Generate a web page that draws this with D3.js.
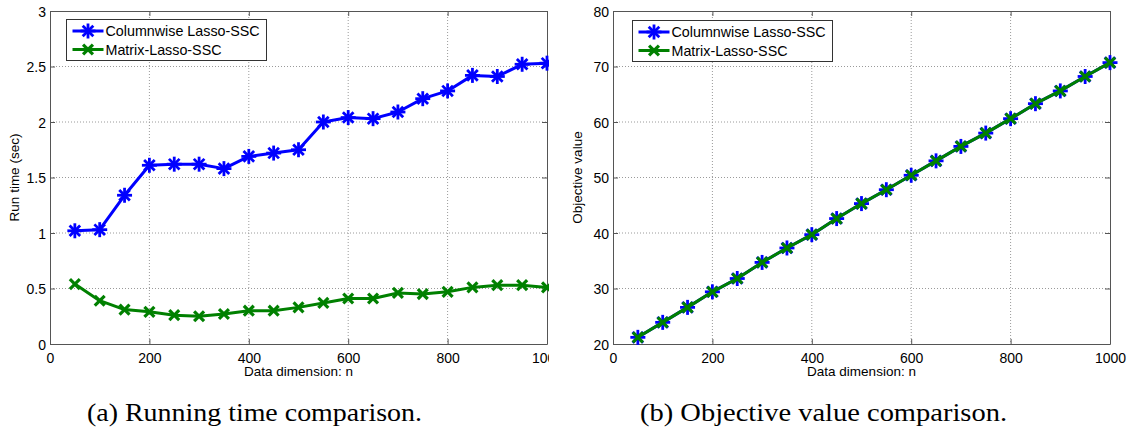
<!DOCTYPE html>
<html>
<head>
<meta charset="utf-8">
<script src="https://cdn.jsdelivr.net/npm/d3@7"></script>
<style>
  body { margin: 0; background: #fff; }
  svg text { font-family: "Liberation Sans", Arial, sans-serif; }
</style>
</head>
<body>
<div id="chart"></div>
<script>
// data dimension n
const dims = [50, 100, 150, 200, 250, 300, 350, 400, 450, 500, 550, 600, 650, 700, 750, 800, 850, 900, 950, 1000];

// (a) running time, seconds
const timeColumnwise = [1.02, 1.03, 1.34, 1.61, 1.62, 1.62, 1.58, 1.69, 1.72, 1.75, 2.00, 2.04, 2.03, 2.09, 2.21, 2.28, 2.42, 2.41, 2.52, 2.53];
const timeMatrix = [0.54, 0.39, 0.31, 0.29, 0.26, 0.25, 0.27, 0.30, 0.30, 0.33, 0.37, 0.41, 0.41, 0.46, 0.45, 0.47, 0.51, 0.53, 0.53, 0.51];

// (b) objective value
const objColumnwise = [21.2, 23.9, 26.6, 29.4, 31.8, 34.7, 37.3, 39.7, 42.6, 45.3, 47.8, 50.4, 53.0, 55.6, 58.0, 60.6, 63.3, 65.6, 68.2, 70.7];
const objMatrix = [21.2, 23.9, 26.6, 29.4, 31.8, 34.7, 37.3, 39.7, 42.6, 45.3, 47.8, 50.4, 53.0, 55.6, 58.0, 60.6, 63.3, 65.6, 68.2, 70.7];

const xTicks = [0, 200, 400, 600, 800, 1000];
const timeTicks = [0, 0.5, 1, 1.5, 2, 2.5, 3];
const objTicks = [20, 30, 40, 50, 60, 70, 80];

const seriesNames = ["Columnwise Lasso-SSC", "Matrix-Lasso-SSC"];

const W = 1134, H = 428;
const svg = d3.select("#chart").append("svg")
    .attr("width", W)
    .attr("height", H);

svg.append("rect").attr("width", W).attr("height", H).attr("fill", "#fff");

// left panel is cropped at its right edge in the original figure
svg.append("defs").append("clipPath")
    .attr("id", "leftClip")
    .append("rect")
    .attr("x", 0).attr("y", 0)
    .attr("width", 549).attr("height", H);

const blue = "#0000ff", green = "#008000";

function asterisk(g, x, y, color) {
    const r = 7.5;
    [0, 45, 90, 135].forEach(a => {
        const t = a * Math.PI / 180;
        g.append("line")
            .attr("x1", x - r * Math.cos(t)).attr("y1", y - r * Math.sin(t))
            .attr("x2", x + r * Math.cos(t)).attr("y2", y + r * Math.sin(t))
            .attr("stroke", color).attr("stroke-width", 2.8);
    });
}

function cross(g, x, y, color) {
    const r = 7;
    [45, 135].forEach(a => {
        const t = a * Math.PI / 180;
        g.append("line")
            .attr("x1", x - r * Math.cos(t)).attr("y1", y - r * Math.sin(t))
            .attr("x2", x + r * Math.cos(t)).attr("y2", y + r * Math.sin(t))
            .attr("stroke", color).attr("stroke-width", 3.2);
    });
}

function drawPanel(cfg) {
    const g = svg.append("g");
    if (cfg.clip) g.attr("clip-path", "url(#leftClip)");

    const x = d3.scaleLinear().domain([0, 1000]).range([cfg.left, cfg.right]);
    const y = d3.scaleLinear().domain(cfg.yDomain).range([cfg.bottom, cfg.top]);

    // dotted grid
    g.append("g").selectAll("line")
        .data(xTicks.slice(1, -1))
        .join("line")
        .attr("x1", d => x(d)).attr("x2", d => x(d))
        .attr("y1", cfg.top).attr("y2", cfg.bottom)
        .attr("stroke", "#9a9a9a").attr("stroke-dasharray", "1,2");
    g.append("g").selectAll("line")
        .data(cfg.yTicks.slice(1, -1))
        .join("line")
        .attr("y1", d => y(d)).attr("y2", d => y(d))
        .attr("x1", cfg.left).attr("x2", cfg.right)
        .attr("stroke", "#9a9a9a").attr("stroke-dasharray", "1,2");

    // axes, ticks inside on all four sides
    const tickLen = 5;
    const axB = g.append("g").attr("transform", `translate(0,${cfg.bottom})`)
        .call(d3.axisBottom(x).tickValues(xTicks).tickSizeInner(-tickLen).tickSizeOuter(0).tickPadding(9)
            .tickFormat(d3.format("d")));
    const axT = g.append("g").attr("transform", `translate(0,${cfg.top})`)
        .call(d3.axisTop(x).tickValues(xTicks).tickSizeInner(-tickLen).tickSizeOuter(0).tickFormat(""));
    const axL = g.append("g").attr("transform", `translate(${cfg.left},0)`)
        .call(d3.axisLeft(y).tickValues(cfg.yTicks).tickSizeInner(-tickLen).tickSizeOuter(0).tickPadding(4)
            .tickFormat(d3.format("")));
    const axR = g.append("g").attr("transform", `translate(${cfg.right},0)`)
        .call(d3.axisRight(y).tickValues(cfg.yTicks).tickSizeInner(-tickLen).tickSizeOuter(0).tickFormat(""));

    [axB, axT, axL, axR].forEach(a => {
        a.select(".domain").attr("stroke", "#555");
        a.selectAll(".tick line").attr("stroke", "#555");
        a.selectAll(".tick text")
            .attr("fill", "#000")
            .style("font-size", "14px")
            .style("font-family", "Liberation Sans, Arial, sans-serif");
    });
    axL.selectAll(".tick text").attr("dy", "0.36em");

    // series
    const line = d3.line().x((d, i) => x(dims[i])).y(d => y(d));
    const s1 = g.append("g");
    s1.append("path").datum(cfg.series1)
        .attr("d", line).attr("fill", "none")
        .attr("stroke", blue).attr("stroke-width", 3).attr("stroke-linejoin", "round");
    cfg.series1.forEach((v, i) => asterisk(s1, x(dims[i]), y(v), blue));

    const s2 = g.append("g");
    s2.append("path").datum(cfg.series2)
        .attr("d", line).attr("fill", "none")
        .attr("stroke", green).attr("stroke-width", 3).attr("stroke-linejoin", "round");
    cfg.series2.forEach((v, i) => cross(s2, x(dims[i]), y(v), green));

    // axis labels
    g.append("text")
        .attr("x", (cfg.left + cfg.right) / 2).attr("y", cfg.bottom + 32)
        .attr("text-anchor", "middle")
        .style("font-size", "13.5px")
        .text("Data dimension: n");
    g.append("text")
        .attr("transform", `translate(${cfg.left - 31},${(cfg.top + cfg.bottom) / 2}) rotate(-90)`)
        .attr("text-anchor", "middle")
        .style("font-size", "13.5px")
        .text(cfg.yLabel);

    // legend
    const lg = g.append("g").attr("transform", `translate(${cfg.legendX},${cfg.legendY})`);
    lg.append("rect")
        .attr("width", 200).attr("height", 41)
        .attr("fill", "#fff").attr("stroke", "#333").attr("stroke-width", 1);
    [[blue, asterisk], [green, cross]].forEach(([c, mark], i) => {
        const ry = 11.5 + i * 18.5;
        lg.append("line")
            .attr("x1", 6).attr("x2", 37).attr("y1", ry).attr("y2", ry)
            .attr("stroke", c).attr("stroke-width", 3);
        mark(lg, 21.5, ry, c);
        lg.append("text")
            .attr("x", 39).attr("y", ry).attr("dy", "0.36em")
            .style("font-size", "14.3px")
            .text(seriesNames[i]);
    });
}

drawPanel({
    left: 50, right: 547, top: 11, bottom: 344,
    yDomain: [0, 3], yTicks: timeTicks,
    series1: timeColumnwise, series2: timeMatrix,
    yLabel: "Run time (sec)",
    legendX: 66.5, legendY: 19.5, clip: true
});

drawPanel({
    left: 613, right: 1110, top: 11, bottom: 344,
    yDomain: [20, 80], yTicks: objTicks,
    series1: objColumnwise, series2: objMatrix,
    yLabel: "Objective value",
    legendX: 632.5, legendY: 20.5, clip: false
});

// subfigure captions
svg.append("text")
    .attr("x", 87).attr("y", 421)
    .attr("textLength", 335).attr("lengthAdjust", "spacingAndGlyphs")
    .style("font-family", "Liberation Serif, Times New Roman, serif")
    .style("font-size", "25px")
    .text("(a) Running time comparison.");
svg.append("text")
    .attr("x", 640).attr("y", 421)
    .attr("textLength", 367).attr("lengthAdjust", "spacingAndGlyphs")
    .style("font-family", "Liberation Serif, Times New Roman, serif")
    .style("font-size", "25px")
    .text("(b) Objective value comparison.");
</script>
</body>
</html>
